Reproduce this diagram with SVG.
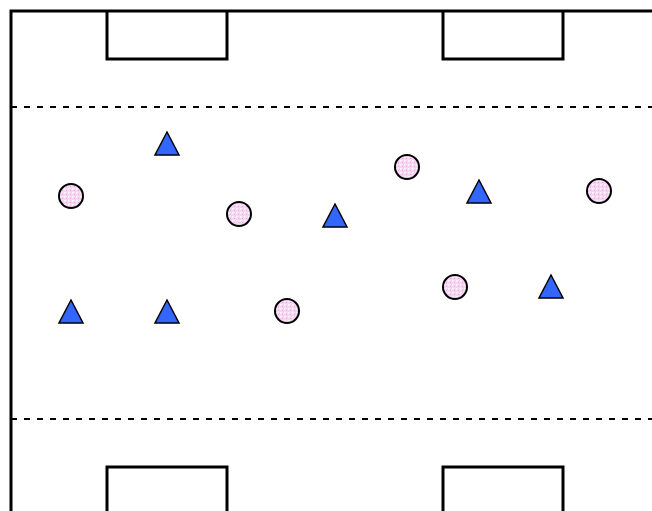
<svg xmlns="http://www.w3.org/2000/svg" width="652" height="511" viewBox="0 0 652 511">
<style>
.fld{fill:none;stroke:#000;stroke-width:3}
.dash{fill:none;stroke:#000;stroke-width:1.8;stroke-dasharray:6,7}
.ball{fill:url(#dots);stroke:#000;stroke-width:2}
.tri{fill:#3366ff;stroke:#000;stroke-width:1.5;stroke-linejoin:miter}
</style>
<defs>
<pattern id="dots" width="4" height="4" patternUnits="userSpaceOnUse">
<rect width="4" height="4" fill="#f9d4f4"/>
<rect x="0" y="0" width="1.5" height="1.5" fill="#ffffff"/>
<rect x="2" y="2" width="1" height="1" fill="#ee9ee3"/>
</pattern>
</defs>
<rect width="652" height="511" fill="#fff"/>
<g id="field">
<path class="fld" d="M11,511 V11 H652"/>
<path class="fld" d="M107,11 V59 H227 V11"/>
<path class="fld" d="M443,11 V59 H563 V11"/>
<path class="fld" d="M107,511 V467 H227 V511"/>
<path class="fld" d="M443,511 V467 H563 V511"/>
<line class="dash" x1="11" y1="107" x2="652" y2="107"/>
<line class="dash" x1="11" y1="419" x2="652" y2="419"/>
</g>
<g id="circles">
<circle id="c1" class="ball" cx="71" cy="196" r="12"/>
<circle id="c2" class="ball" cx="239" cy="214" r="12"/>
<circle id="c3" class="ball" cx="407" cy="167" r="12"/>
<circle id="c4" class="ball" cx="599" cy="191" r="12"/>
<circle id="c5" class="ball" cx="455" cy="287" r="12"/>
<circle id="c6" class="ball" cx="287" cy="311" r="12"/>
</g>
<g id="triangles">
<polygon id="t1" class="tri" points="167,132 179,155 155,155"/>
<polygon id="t2" class="tri" points="479,180 491,203 467,203"/>
<polygon id="t3" class="tri" points="335,204 347,227 323,227"/>
<polygon id="t4" class="tri" points="71,300 83,323 59,323"/>
<polygon id="t5" class="tri" points="167,300 179,323 155,323"/>
<polygon id="t6" class="tri" points="551,275 563,298 539,298"/>
</g>
</svg>
